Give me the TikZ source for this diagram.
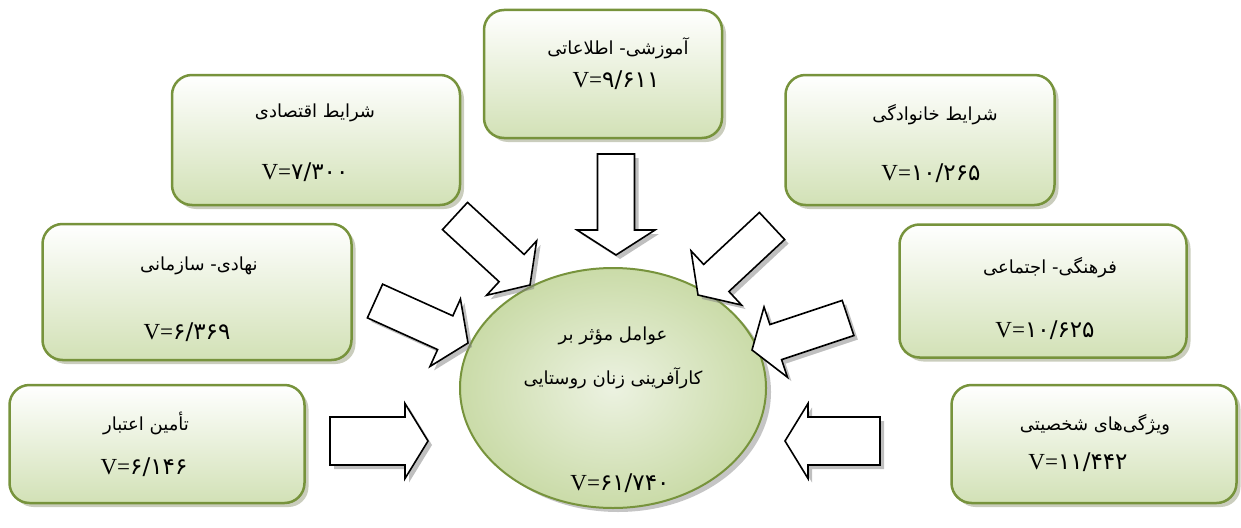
\documentclass[tikz,border=0pt]{standalone}
\usepackage{fontspec}
\setmainfont{Liberation Serif}
\newfontfamily\arabicfont[Script=Arabic]{DejaVu Sans}
\TeXXeTstate=1
\usetikzlibrary{shapes.geometric,shadows,calc}

\definecolor{rimgreen}{RGB}{119,147,60}
\definecolor{leafgreen}{RGB}{210,225,182}
\definecolor{palegreen}{RGB}{236,242,225}
\definecolor{sagegreen}{RGB}{202,219,168}
\definecolor{boxshadow}{RGB}{150,156,124}

\newcommand{\fa}[1]{{\arabicfont\beginR #1\endR}}
\newcommand{\val}[1]{V={\arabicfont #1}}
% block arrow: tail, tip, half shaft, half head, head length
\newcommand{\pusharrow}[5]{%
  \coordinate (#1-base) at ($(#2)!#5!(#1)$);
  \draw[push] ($(#1)!#3!90:(#2)$) -- ($(#1-base)!#3!90:(#2)$) -- ($(#1-base)!#4!90:(#2)$)
    -- (#2) -- ($(#1-base)!#4!-90:(#2)$) -- ($(#1-base)!#3!-90:(#2)$) -- ($(#1)!#3!-90:(#2)$) -- cycle;
}

\begin{document}
\begin{tikzpicture}[x=1pt,y=-1pt,
    factor/.style={rectangle, rounded corners=20pt, draw=rimgreen, line width=2.5pt,
        top color=white, bottom color=leafgreen,
        drop shadow={shadow xshift=4pt, shadow yshift=-4pt, fill=boxshadow}},
    hubstyle/.style={ellipse, draw=rimgreen, line width=2pt,
        inner color=palegreen, outer color=sagegreen,
        drop shadow={shadow xshift=5pt, shadow yshift=-4pt, fill=black!45}},
    title/.style={font=\fontsize{18}{21}\arabicfont, inner sep=0pt},
    value/.style={font=\fontsize{23}{26}\selectfont, inner sep=0pt},
    push/.style={draw=black, fill=white, line width=1.6pt, line join=miter,
        drop shadow={shadow xshift=4pt, shadow yshift=-4pt, fill=black!50}},
]
\useasboundingbox (0,0) rectangle (1241,527);

% factor boxes
\node[factor, minimum width=238pt, minimum height=128pt] (edu) at (603,74) {};
\node[factor, minimum width=288pt, minimum height=130pt] (econ) at (316,140) {};
\node[factor, minimum width=269pt, minimum height=130pt] (family) at (920,140) {};
\node[factor, minimum width=309pt, minimum height=136pt] (inst) at (197,292) {};
\node[factor, minimum width=287pt, minimum height=133pt] (culture) at (1043,291) {};
\node[factor, minimum width=295pt, minimum height=118pt] (credit) at (157,444) {};
\node[factor, minimum width=285pt, minimum height=118pt] (personal) at (1094,444) {};

\node[title] (edu-t) at (618,48) {\fa{آموزشی- اطلاعاتی}};
\node[value] (edu-v) at (616,80) {\val{۹/۶۱۱}};
\node[title] (econ-t) at (315,113) {\fa{شرایط اقتصادی}};
\node[value] (econ-v) at (305,172) {\val{۷/۳۰۰}};
\node[title] (family-t) at (935,115) {\fa{شرایط خانوادگی}};
\node[value] (family-v) at (931,173) {\val{۱۰/۲۶۵}};
\node[title] (inst-t) at (199,266) {\fa{نهادی- سازمانی}};
\node[value] (inst-v) at (187,332) {\val{۶/۳۶۹}};
\node[title] (culture-t) at (1050,268) {\fa{فرهنگی- اجتماعی}};
\node[value] (culture-v) at (1045,330) {\val{۱۰/۶۲۵}};
\node[title] (credit-t) at (146,423) {\fa{تأمین اعتبار}};
\node[value] (credit-v) at (144,467) {\val{۶/۱۴۶}};
\node[title] (personal-t) at (1095,425) {\fa{ویژگی‌های شخصیتی}};
\node[value] (personal-v) at (1078,462) {\val{۱۱/۴۴۲}};

% central factor
\node[hubstyle, minimum width=306pt, minimum height=240pt] (hub) at (613,388) {};
\node[title, align=center] (hub-t) at (613,358) {\fa{عوامل مؤثر بر}\\[22pt]\fa{کارآفرینی زنان روستایی}};
\node[value] (hub-v) at (620,483) {\val{۶۱/۷۴۰}};

% arrows into the hub
\coordinate (edu-a) at (616,154);    \coordinate (edu-b) at (616,255);
\coordinate (econ-a) at (455,216);   \coordinate (econ-b) at (530,285);
\coordinate (inst-a) at (375,301);   \coordinate (inst-b) at (468,343);
\coordinate (credit-a) at (330,441); \coordinate (credit-b) at (428,441);
\coordinate (family-a) at (772,226); \coordinate (family-b) at (698,295);
\coordinate (culture-a) at (848,318); \coordinate (culture-b) at (752,350);
\coordinate (personal-a) at (880,441); \coordinate (personal-b) at (785,441);

\pusharrow{edu-a}{edu-b}{18.5pt}{39pt}{25pt}
\pusharrow{econ-a}{econ-b}{18.5pt}{37pt}{25pt}
\pusharrow{inst-a}{inst-b}{18.5pt}{37pt}{25pt}
\pusharrow{credit-a}{credit-b}{24pt}{37.5pt}{23pt}
\pusharrow{family-a}{family-b}{18.5pt}{37pt}{25pt}
\pusharrow{culture-a}{culture-b}{18.5pt}{37pt}{25pt}
\pusharrow{personal-a}{personal-b}{24pt}{37.5pt}{23pt}
\end{tikzpicture}
\end{document}
